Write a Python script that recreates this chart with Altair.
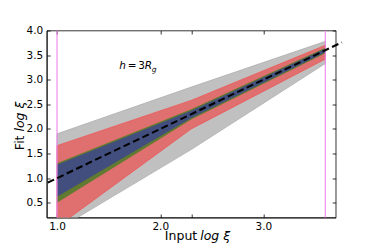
import altair as alt
import pandas as pd

# ---- data ----
x_in = [1.0, 2.3, 3.6]
gray_lo = [-0.05, 1.58, 3.33]
gray_hi = [1.90, 2.85, 3.78]
red_lo = [0.01, 2.00, 3.42]
red_hi = [1.66, 2.58, 3.70]
green_lo = [0.50, 2.19, 3.54]
green_hi = [1.30, 2.40, 3.65]
blue_lo = [0.62, 2.22, 3.56]
blue_hi = [1.27, 2.37, 3.63]
limits_x = [1.0, 3.6]
ref_x = [0.91, 3.76]
x_ticks = [1.0, 2.0, 2.301, 3.0]
y_ticks = [0.5, 1.0, 1.5, 2.0, 2.5, 3.0, 3.5, 4.0]

FONT = "DejaVu Sans"

def band(lo, hi):
    return pd.DataFrame({"x": x_in, "lo": lo, "hi": hi})

xs = alt.Scale(domain=[0.9, 3.7], nice=False, zero=False)
ys = alt.Scale(domain=[0.2, 4.0], nice=False, zero=False)

lab_x = "abs(datum.value-2.301)<0.01 ? '' : format(datum.value,'.1f')"

ax_x_main = alt.Axis(orient="bottom", values=x_ticks, labelExpr=lab_x, ticks=False,
                     domain=True, domainColor="black", domainWidth=0.8, labelPadding=4,
                     title=None, grid=False)
ax_y_main = alt.Axis(orient="left", values=y_ticks, format=".1f", ticks=False,
                     domain=True, domainColor="black", domainWidth=0.8, labelPadding=4,
                     title=None, grid=False)

def tick_axis(orient, vals):
    return alt.Axis(orient=orient, values=vals, labels=False, domain=False, ticks=True,
                    tickSize=3.5, tickWidth=0.8, tickColor="black", offset=-3.5,
                    title=None, grid=False)

def area_layer(lo, hi, color, xa=None, ya=None, stroke=None):
    kw = dict(clip=True, color=color, opacity=1)
    if stroke:
        kw.update(stroke=stroke, strokeWidth=0.8)
    return alt.Chart(band(lo, hi)).mark_area(**kw).encode(
        x=alt.X("x:Q", scale=xs, axis=xa),
        y=alt.Y("lo:Q", scale=ys, axis=ya),
        y2="hi:Q",
    )

gray = area_layer(gray_lo, gray_hi, "#c0c0c0", ax_x_main, ax_y_main, stroke="#b0b0b0")
red = area_layer(red_lo, red_hi, "#e07070", tick_axis("bottom", x_ticks), tick_axis("left", y_ticks), stroke="#ee5555")
green = area_layer(green_lo, green_hi, "#627a30", tick_axis("top", x_ticks), tick_axis("right", y_ticks))
blue = area_layer(blue_lo, blue_hi, "#414e7e")

vlines = alt.Chart(pd.DataFrame({"x": limits_x})).mark_rule(
    color="violet", strokeWidth=1.3, opacity=0.85).encode(
    x=alt.X("x:Q", scale=xs, axis=None))

diag = alt.Chart(pd.DataFrame({"x": ref_x, "y": ref_x})).mark_line(
    color="black", strokeWidth=2, strokeDash=[7, 3.5], clip=False).encode(
    x=alt.X("x:Q", scale=xs, axis=None),
    y=alt.Y("y:Q", scale=ys, axis=None))

one = alt.Data(values=[{"k": 1}])

def txt(s, x, y, size=10.5, style="normal", align="left", angle=0):
    kw = dict(font=FONT, fontSize=size, fontStyle=style, align=align,
              baseline="alphabetic", color="black")
    if angle:
        kw["angle"] = angle
    return alt.Chart(one).mark_text(**kw).encode(
        x=alt.value(x), y=alt.value(y), text=alt.value(s))

texts = [
    txt("h", 72.5, 38.5, 10.5, "italic"),
    txt("=", 81, 38.5, 10.5),
    txt("3", 91.5, 38.5, 10.5),
    txt("R", 98, 38.5, 10.5, "italic"),
    txt("g", 105, 41.5, 7.5, "italic"),
    txt("Input", 150.5, 209.5, 12.5, "normal", "right"),
    txt("log ξ", 153.5, 209.5, 12.5, "italic", "left"),
    txt("Fit", -23, 105, 12.5, "normal", "right", 270),
    txt("log ξ", -23, 101, 12.5, "italic", "left", 270),
]

chart = alt.layer(gray, red, green, blue, vlines, diag, *texts).resolve_axis(
    x="independent", y="independent"
).properties(
    width=289, height=187,
    autosize=alt.AutoSizeParams(type="none"),
    padding={"left": 38.7, "top": 22.5, "right": 30, "bottom": 27},
).configure_view(stroke="black", strokeWidth=0.8).configure_axis(
    labelFont=FONT, labelFontSize=10.5, labelColor="black"
)

chart.save("out.html", embed_options={"renderer": "svg", "actions": False})
